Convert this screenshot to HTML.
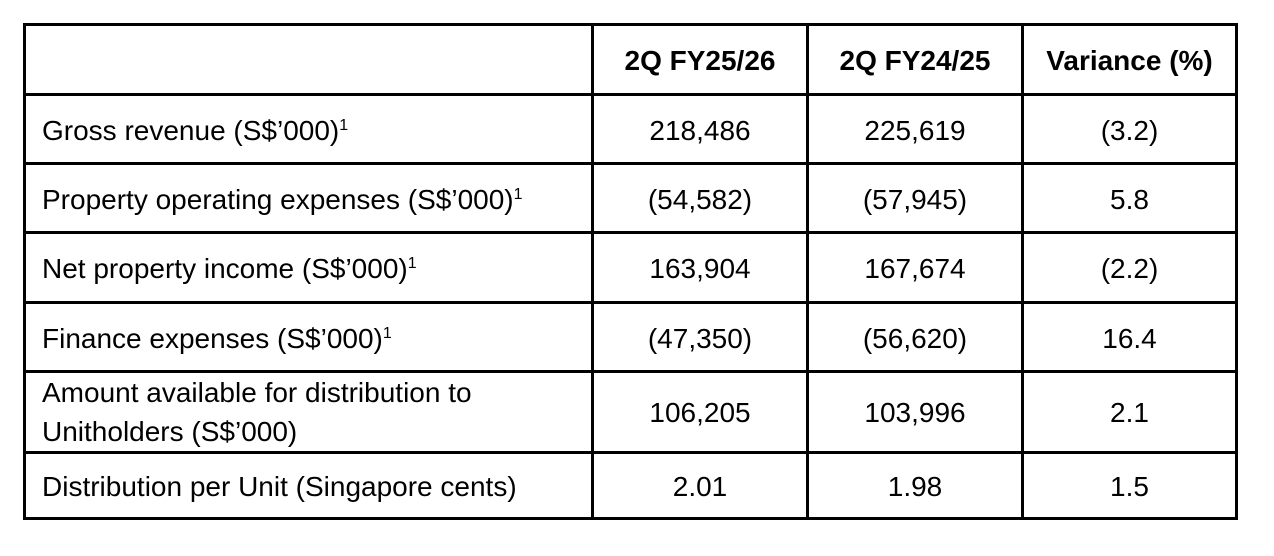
<!DOCTYPE html>
<html><head><meta charset="utf-8"><style>
html,body{margin:0;padding:0;background:#fff;width:1274px;height:556px;overflow:hidden}
table{position:absolute;left:23px;top:23px;border-collapse:collapse;table-layout:fixed;font-family:"Liberation Sans",Arial,sans-serif;font-size:28px;color:#000}
td{border:3px solid #000;padding:3px 0 0 0;text-align:center;vertical-align:middle;line-height:40px;white-space:nowrap}
td.l{text-align:left;padding-left:16px}
tr.t td{padding-top:0;line-height:39px}
th{border:3px solid #000;font-weight:bold;font-size:28px;padding:3px 0 0 0}
sup{font-size:16px;vertical-align:10px;line-height:0}
</style></head><body>
<table>
<colgroup><col style="width:568px"><col style="width:215px"><col style="width:215px"><col style="width:214px"></colgroup>
<tr style="height:70px"><th></th><th>2Q FY25/26</th><th>2Q FY24/25</th><th>Variance (%)</th></tr>
<tr style="height:69px"><td class="l">Gross revenue (S$’000)<sup>1</sup></td><td>218,486</td><td>225,619</td><td>(3.2)</td></tr>
<tr style="height:69px"><td class="l">Property operating expenses (S$’000)<sup>1</sup></td><td>(54,582)</td><td>(57,945)</td><td>5.8</td></tr>
<tr style="height:70px"><td class="l">Net property income (S$’000)<sup>1</sup></td><td>163,904</td><td>167,674</td><td>(2.2)</td></tr>
<tr style="height:69px"><td class="l">Finance expenses (S$’000)<sup>1</sup></td><td>(47,350)</td><td>(56,620)</td><td>16.4</td></tr>
<tr class="t" style="height:80px"><td class="l">Amount available for distribution to<br>Unitholders (S$’000)</td><td>106,205</td><td>103,996</td><td>2.1</td></tr>
<tr style="height:66px"><td class="l">Distribution per Unit (Singapore cents)</td><td>2.01</td><td>1.98</td><td>1.5</td></tr>
</table>
</body></html>
